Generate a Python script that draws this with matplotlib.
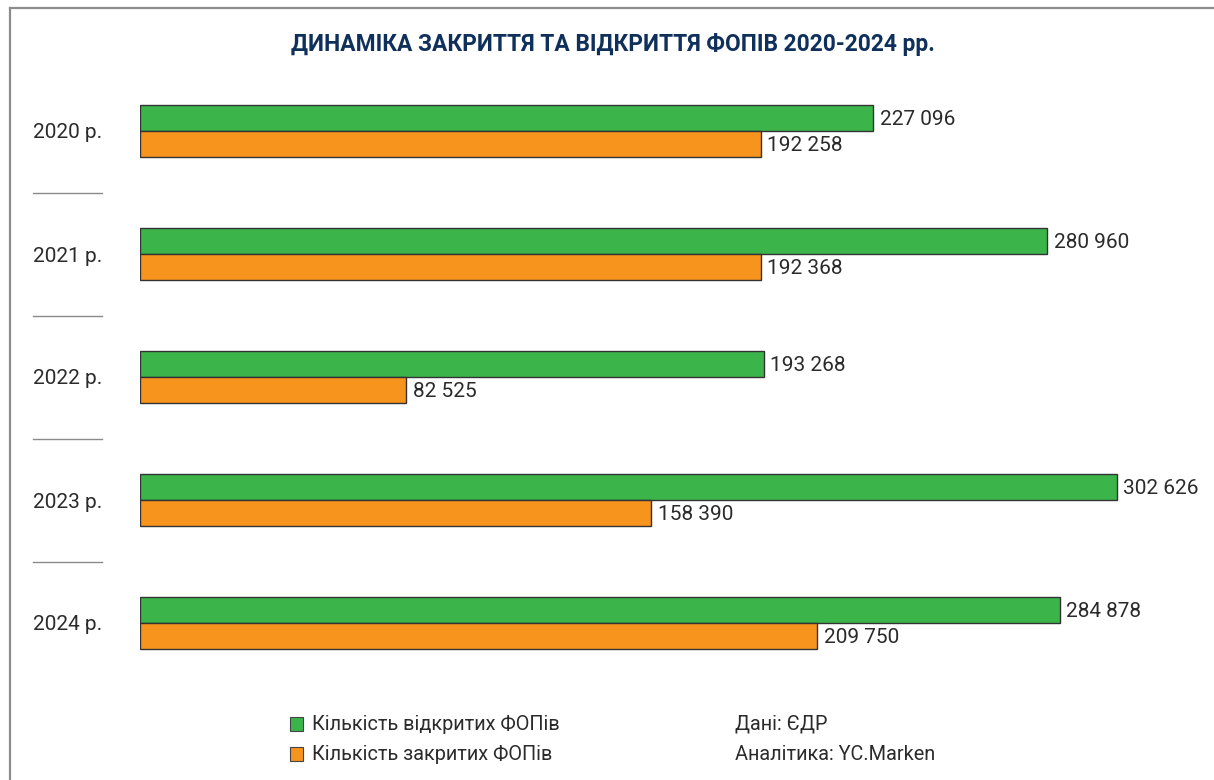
import matplotlib
matplotlib.use("Agg")
import matplotlib.pyplot as plt
import matplotlib.transforms as mtransforms
from matplotlib.lines import Line2D
from matplotlib.patches import Rectangle

years = ["2020 р.", "2021 р.", "2022 р.", "2023 р.", "2024 р."]
opened = [227096, 280960, 193268, 302626, 284878]
closed = [192258, 192368, 82525, 158390, 209750]

title = "ДИНАМІКА ЗАКРИТТЯ ТА ВІДКРИТТЯ ФОПІВ 2020-2024 рр."
legend_labels = ["Кількість відкритих ФОПів", "Кількість закритих ФОПів"]
notes = ["Дані: ЄДР", "Аналітика: YC.Marken"]

GREEN = "#3bb54a"
ORANGE = "#f7941d"
NAVY = "#10305c"
TXT = "#2b2b2b"
FONT = ["Roboto", "DejaVu Sans"]

W, H = 1214, 780
fig = plt.figure(figsize=(W / 100, H / 100), dpi=100)
plt.rcParams["font.family"] = FONT

# axes placed in pixels: x from 140 to 1140, group centres at y=131..623
ax = fig.add_axes([140 / W, (H - 684.5) / H, 1000 / W, 615 / H])
xmax = 1000 / (977 / 302626)
ax.set_xlim(0, xmax)
ax.set_ylim(4.5, -0.5)

bh = 26 / 123
ypos = list(range(len(years)))
ax.barh([y - bh / 2 for y in ypos], opened, height=bh, color=GREEN,
        edgecolor="#333333", linewidth=1)
ax.barh([y + bh / 2 for y in ypos], closed, height=bh, color=ORANGE,
        edgecolor="#333333", linewidth=1)

for y, o, c in zip(ypos, opened, closed):
    ax.text(o + 2000, y - bh / 2 + 0.01, f"{o:,}".replace(",", " "), va="center",
            ha="left", fontsize=15, color=TXT)
    ax.text(c + 2000, y + bh / 2 + 0.01, f"{c:,}".replace(",", " "), va="center",
            ha="left", fontsize=15, color=TXT)

ax.set_yticks(ypos)
ax.set_yticklabels(years, fontsize=15, color=TXT)
ax.tick_params(axis="y", length=0, pad=27)
ax.set_xticks([])
for s in ax.spines.values():
    s.set_visible(False)

# separators between years
tr = mtransforms.blended_transform_factory(fig.transFigure, ax.transData)
for y in ypos[:-1]:
    ax.add_line(Line2D([33 / W, 102 / W], [y + 0.5, y + 0.5], transform=tr,
                       color="#8a8a8a", lw=1, clip_on=False))

# frame lines (top and left)
fig.add_artist(Line2D([9.5 / W, 1], [1 - 7.5 / H, 1 - 7.5 / H], color="#8c8c8c", lw=1.6))
fig.add_artist(Line2D([9.5 / W, 9.5 / W], [0, 1 - 7.5 / H], color="#8c8c8c", lw=1.6))

fig.text(613 / W, 1 - 44 / H, title, ha="center", va="center", fontsize=16.4,
         fontweight="bold", color=NAVY)

# legend
for i, (lab, col) in enumerate(zip(legend_labels, [GREEN, ORANGE])):
    yc = 724 + 30 * i
    fig.add_artist(Rectangle((290 / W, 1 - (yc + 7) / H), 13 / W, 14 / H,
                             facecolor=col, edgecolor="#444444", lw=0.8))
    fig.text(312 / W, 1 - yc / H, lab, ha="left", va="center", fontsize=14.3, color=TXT)
for i, n in enumerate(notes):
    fig.text(735 / W, 1 - (724 + 30 * i) / H, n, ha="left", va="center",
             fontsize=14.3, color=TXT)

fig.savefig("out.png", dpi=100)
